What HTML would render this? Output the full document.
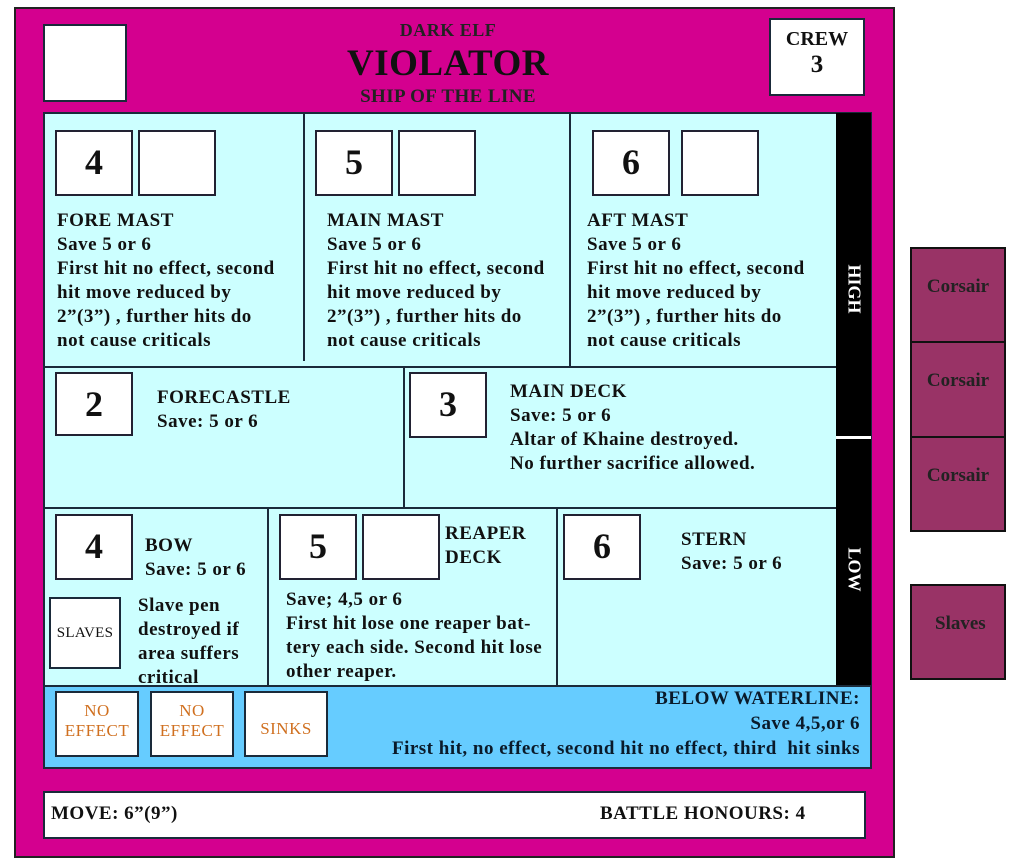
<!DOCTYPE html>
<html><head><meta charset="utf-8"><style>
*{margin:0;padding:0;box-sizing:border-box}
body{width:1012px;height:868px;background:#fff;position:relative;font-family:"Liberation Serif",serif;font-weight:bold;color:#111;overflow:hidden}
div{position:absolute}
.b{border:2px solid #1a2a3a}
.w{background:#fff;border:2px solid #223;text-align:center;font-size:36px;line-height:60px}
.t{font-size:19px;line-height:24px;white-space:nowrap;letter-spacing:0.5px;padding-top:2px}
.c{background:#993366;border:2px solid #111;width:96px;text-align:center;font-size:19px;color:#222}
.o{color:#d07020;font-size:17px;line-height:20px;font-weight:normal;letter-spacing:0.5px}
</style></head><body>
<div style="left:14px;top:7px;width:881px;height:851px;background:#d4008f;border:2px solid #222"></div>
<div class="b" style="left:43px;top:24px;width:84px;height:78px;background:#fff"></div>
<div style="left:300px;top:20px;width:296px;text-align:center;font-size:18px;line-height:20px;color:#222;letter-spacing:0.5px">DARK ELF</div>
<div style="left:290px;top:42px;width:316px;text-align:center;font-size:37px;line-height:44px;letter-spacing:0.5px">VIOLATOR</div>
<div style="left:300px;top:87px;width:296px;text-align:center;font-size:19px;line-height:20px;color:#222;letter-spacing:0.4px">SHIP OF THE LINE</div>
<div class="b" style="left:769px;top:18px;width:96px;height:78px;background:#fff;text-align:center;font-size:20px;line-height:26px;padding-top:6px">CREW<br><span style="font-size:25px">3</span></div>

<div class="b" style="left:43px;top:112px;width:829px;height:576px;background:#ccffff"></div>
<div style="left:836px;top:113px;width:35px;height:573px;background:#000"></div>
<div style="left:836px;top:436px;width:35px;height:3px;background:#fff"></div>
<div style="left:834px;top:274px;width:40px;color:#fff;font-size:18px;transform:rotate(90deg);text-align:center">HIGH</div>
<div style="left:834px;top:557px;width:40px;color:#fff;font-size:18px;transform:rotate(90deg);text-align:center">LOW</div>
<div style="left:44px;top:366px;width:792px;height:2px;background:#1a2a3a"></div>
<div style="left:44px;top:507px;width:792px;height:2px;background:#1a2a3a"></div>
<div style="left:303px;top:113px;width:2px;height:248px;background:#1a2a3a"></div>
<div style="left:569px;top:113px;width:2px;height:253px;background:#1a2a3a"></div>
<div style="left:403px;top:367px;width:2px;height:141px;background:#1a2a3a"></div>
<div style="left:267px;top:508px;width:2px;height:178px;background:#1a2a3a"></div>
<div style="left:556px;top:508px;width:2px;height:178px;background:#1a2a3a"></div>
<div class="w" style="left:55px;top:130px;width:78px;height:66px">4</div>
<div class="w" style="left:138px;top:130px;width:78px;height:66px"></div>
<div class="t" style="left:57px;top:207px">FORE MAST<br>Save 5 or 6<br>First hit no effect, second<br>hit move reduced by<br>2”(3”) , further hits do<br>not cause criticals</div>
<div class="w" style="left:315px;top:130px;width:78px;height:66px">5</div>
<div class="w" style="left:398px;top:130px;width:78px;height:66px"></div>
<div class="t" style="left:327px;top:207px">MAIN MAST<br>Save 5 or 6<br>First hit no effect, second<br>hit move reduced by<br>2”(3”) , further hits do<br>not cause criticals</div>
<div class="w" style="left:592px;top:130px;width:78px;height:66px">6</div>
<div class="w" style="left:681px;top:130px;width:78px;height:66px"></div>
<div class="t" style="left:587px;top:207px">AFT MAST<br>Save 5 or 6<br>First hit no effect, second<br>hit move reduced by<br>2”(3”) , further hits do<br>not cause criticals</div>
<div class="w" style="left:55px;top:372px;width:78px;height:64px">2</div>
<div class="t" style="left:157px;top:384px">FORECASTLE<br>Save: 5 or 6</div>
<div class="w" style="left:409px;top:372px;width:78px;height:66px">3</div>
<div class="t" style="left:510px;top:378px">MAIN DECK<br>Save: 5 or 6<br>Altar of Khaine destroyed.<br>No further sacrifice allowed.</div>
<div class="w" style="left:55px;top:514px;width:78px;height:66px">4</div>
<div class="t" style="left:145px;top:532px">BOW<br>Save: 5 or 6</div>
<div class="b" style="left:49px;top:597px;width:72px;height:72px;background:#fff;font-size:15px;line-height:68px;text-align:center;font-weight:normal;letter-spacing:0.3px">SLAVES</div>
<div class="t" style="left:138px;top:592px">Slave pen<br>destroyed if<br>area suffers<br>critical</div>
<div class="w" style="left:279px;top:514px;width:78px;height:66px">5</div>
<div class="w" style="left:362px;top:514px;width:78px;height:66px"></div>
<div class="t" style="left:445px;top:520px">REAPER<br>DECK</div>
<div class="t" style="left:286px;top:586px">Save; 4,5 or 6<br>First hit lose one reaper bat-<br>tery each side. Second hit lose<br>other reaper.</div>
<div class="w" style="left:563px;top:514px;width:78px;height:66px">6</div>
<div class="t" style="left:681px;top:526px">STERN<br>Save: 5 or 6</div>
<div class="b" style="left:43px;top:685px;width:829px;height:84px;background:#66ccff"></div>
<div class="b o" style="left:55px;top:691px;width:84px;height:66px;background:#fff;text-align:center;padding-top:8px">NO<br>EFFECT</div>
<div class="b o" style="left:150px;top:691px;width:84px;height:66px;background:#fff;text-align:center;padding-top:8px">NO<br>EFFECT</div>
<div class="b o" style="left:244px;top:691px;width:84px;height:66px;background:#fff;text-align:center;padding-top:26px">SINKS</div>
<div class="t" style="left:340px;top:684px;width:520px;text-align:right;color:#0a1a2a;line-height:25px">BELOW WATERLINE:<br>Save 4,5,or 6<br>First hit, no effect, second hit no effect, third&nbsp; hit sinks</div>
<div class="b" style="left:43px;top:791px;width:823px;height:48px;background:#fff"></div>
<div class="t" style="left:51px;top:800px">MOVE: 6”(9”)</div>
<div class="t" style="left:600px;top:800px">BATTLE HONOURS: 4</div>
<div class="c" style="left:910px;top:247px;height:96px;padding-top:27px">Corsair</div>
<div class="c" style="left:910px;top:341px;height:97px;padding-top:27px">Corsair</div>
<div class="c" style="left:910px;top:436px;height:96px;padding-top:27px">Corsair</div>
<div class="c" style="left:910px;top:584px;height:96px;padding-top:27px">&nbsp;Slaves</div>
</body></html>
